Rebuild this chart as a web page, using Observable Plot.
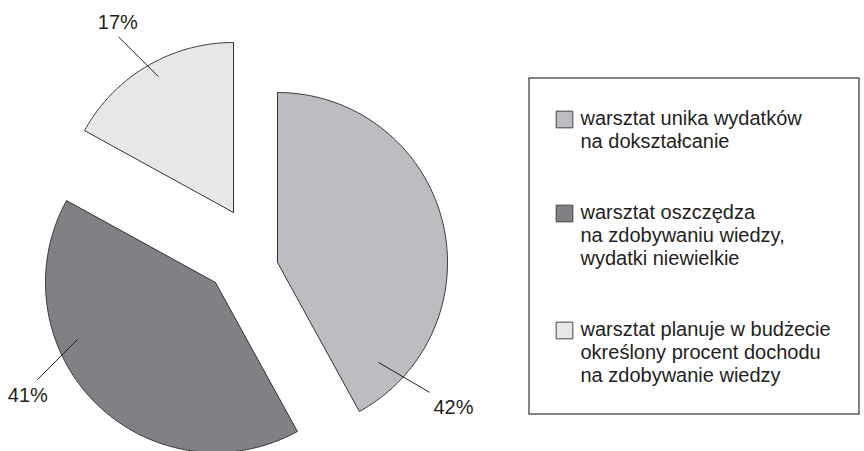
<!DOCTYPE html>
<html>
<head>
<meta charset="utf-8">
<script src="https://cdn.jsdelivr.net/npm/d3@7"></script>
<script src="https://cdn.jsdelivr.net/npm/@observablehq/plot@0.6"></script>
<style>
  html, body { margin: 0; padding: 0; background: #fff; }
  #chart svg { display: block; }
</style>
</head>
<body>
<div id="chart"></div>
<script>
// ---- data ----
const categories = [
  "warsztat unika wydatków na dokształcanie",
  "warsztat oszczędza na zdobywaniu wiedzy, wydatki niewielkie",
  "warsztat planuje w budżecie określony procent dochodu na zdobywanie wiedzy"
];
const legendLines = [
  ["warsztat unika wydatków", "na dokształcanie"],
  ["warsztat oszczędza", "na zdobywaniu wiedzy,", "wydatki niewielkie"],
  ["warsztat planuje w budżecie", "określony procent dochodu", "na zdobywanie wiedzy"]
];
const values = [42, 41, 17];
const valueLabels = ["42%", "41%", "17%"];

// ---- styling / layout ----
const W = 864, H = 451;
const colors = ["#bcbdc0", "#808184", "#e6e7e8"];
const center = [235, 265];
const radius = 170;
const explode = [[42, -3], [-20, 17], [-2, -53]];
const leaderInner = [[134.7, 142], [247.6, 149], [331.1, 155]];
const leaderOuter = [[130.5, 200], [241.4, 203], [326.8, 210]];
const labelPos = [[129.5, 228], [239, 219], [328.6, 222]];
const legendBox = {x1: 529, x2: 859, y1: 78, y2: 414};
const legendSwatchX = 564, legendTextX = 580, legendTop = 118, lineStep = 23, itemGap = 48;
const font = "Liberation Sans, Arial, Helvetica, sans-serif";
const fontSize = 20;

// ---- pie geometry ----
const rad = d => d * Math.PI / 180;
const pie = d3.pie().sort(null).value(d => d)(values);
const apex = pie.map((p, i) => [center[0] + explode[i][0], center[1] + explode[i][1]]);
const polar = (i, deg, r) => [apex[i][0] + r * Math.sin(rad(deg)), apex[i][1] - r * Math.cos(rad(deg))];

const slices = pie.map((p, i) => {
  const pts = [{x: apex[i][0], y: apex[i][1]}];
  const n = Math.max(8, Math.ceil((p.endAngle - p.startAngle) / 0.01));
  for (let k = 0; k <= n; k++) {
    const a = p.startAngle + (p.endAngle - p.startAngle) * k / n;
    pts.push({x: apex[i][0] + radius * Math.sin(a), y: apex[i][1] - radius * Math.cos(a)});
  }
  pts.push({x: apex[i][0], y: apex[i][1]});
  return pts;
});

const leaders = values.map((v, i) => {
  const a = polar(i, ...leaderInner[i]), b = polar(i, ...leaderOuter[i]);
  return {x1: a[0], y1: a[1], x2: b[0], y2: b[1]};
});
const labels = values.map((v, i) => {
  const p = polar(i, ...labelPos[i]);
  return {x: p[0], y: p[1], text: valueLabels[i]};
});

// ---- legend rows ----
const legendSwatches = [];
const legendText = [];
let yCursor = legendTop;
legendLines.forEach((lines, i) => {
  legendSwatches.push({x: legendSwatchX, y: yCursor + 1, color: colors[i], cat: categories[i]});
  lines.forEach((t, j) => legendText.push({x: legendTextX, y: yCursor + j * lineStep, text: t}));
  yCursor += lines.length * lineStep + itemGap;
});

const chart = Plot.plot({
  width: W, height: H,
  margin: 0,
  x: {domain: [0, W], range: [0, W], axis: null},
  y: {domain: [0, H], range: [0, H], axis: null},
  style: {fontFamily: font, background: "#fff"},
  marks: [
    ...slices.map((pts, i) => Plot.line(pts, {x: "x", y: "y", fill: colors[i], stroke: "#333", strokeWidth: 1, strokeLinejoin: "miter"})),
    Plot.link(leaders, {x1: "x1", y1: "y1", x2: "x2", y2: "y2", stroke: "#222", strokeWidth: 1}),
    Plot.text(labels, {x: "x", y: "y", text: "text", fontSize: fontSize, fill: "#231f20"}),
    Plot.rect([legendBox], {x1: "x1", x2: "x2", y1: "y1", y2: "y2", fill: "none", stroke: "#333", strokeWidth: 1.2}),
    Plot.dot(legendSwatches, {x: "x", y: "y", symbol: "square", r: 9.4, fill: "color", stroke: "#444", strokeWidth: 1}),
    Plot.text(legendText, {x: "x", y: "y", text: "text", textAnchor: "start", fontSize: fontSize, fill: "#231f20"})
  ],
  color: {type: "identity"}
});
document.getElementById("chart").appendChild(chart);
</script>
</body>
</html>
